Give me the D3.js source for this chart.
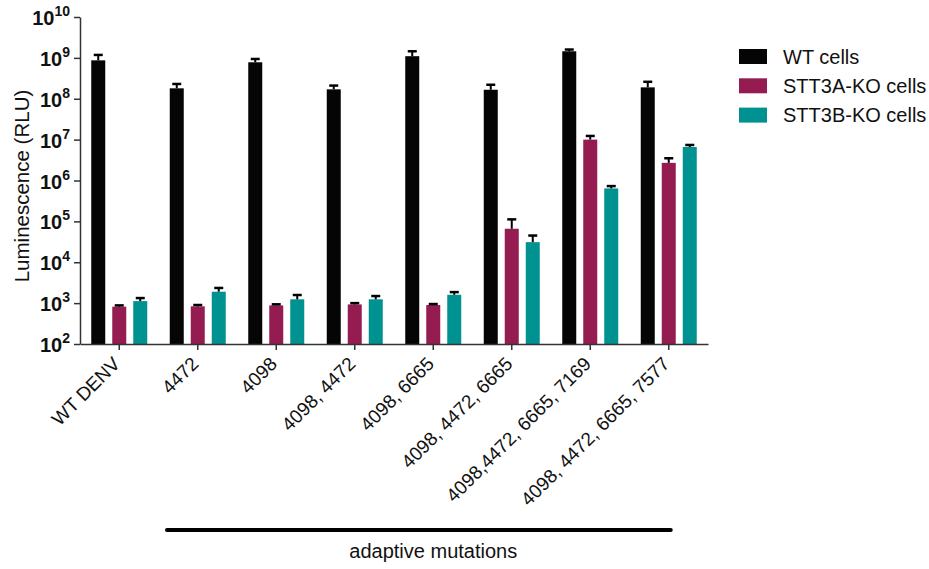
<!DOCTYPE html>
<html>
<head>
<meta charset="utf-8">
<script src="https://cdn.jsdelivr.net/npm/d3@7"></script>
<style>
  body { margin: 0; background: #fff; }
  text { font-family: "Liberation Sans", Arial, sans-serif; }
</style>
</head>
<body>
<svg id="chart" width="929" height="569"></svg>
<script>
// data (means and upper error bars, RLU)
var categories = ['WT DENV', '4472', '4098', '4098, 4472', '4098, 6665',
  '4098, 4472, 6665', '4098,4472, 6665, 7169', '4098, 4472, 6665, 7577']
var seriesNames = ['WT cells', 'STT3A-KO cells', 'STT3B-KO cells']
var seriesColors = ['#050505', '#951c50', '#009290']
var wtMeans = [8.7e8, 1.8e8, 7.8e8, 1.7e8, 1.1e9, 1.66e8, 1.45e9, 1.9e8]
var wtUpper = [1.18e9, 2.3e8, 9.4e8, 2.1e8, 1.45e9, 2.2e8, 1.6e9, 2.6e8]
var aMeans = [820, 835, 880, 930, 900, 6.6e4, 1.0e7, 2.7e6]
var aUpper = [880, 900, 935, 1000, 950, 1.12e5, 1.23e7, 3.5e6]
var bMeans = [1120, 1900, 1240, 1240, 1600, 3.1e4, 6.4e5, 6.6e6]
var bUpper = [1330, 2350, 1580, 1490, 1860, 4.5e4, 7.3e5, 7.4e6]
var yTicks = [1e2, 1e3, 1e4, 1e5, 1e6, 1e7, 1e8, 1e9, 1e10]

var means = [wtMeans, aMeans, bMeans]
var uppers = [wtUpper, aUpper, bUpper]

function draw () {
  var svg = d3.select('#chart')
    , left = 80
    , right = 708
    , plotTop = 17
    , bottom = 344
    , barW = 14
    , pitch = 21

  var x = d3.scaleBand().domain(categories).range([left, right])
  var y = d3.scaleLog().domain([1e2, 1e10]).range([bottom, plotTop])

  //bars + upper error bars
  categories.forEach(function (c, i) {
    var cx = x(c) + x.bandwidth() / 2
    seriesNames.forEach(function (s, j) {
      var bx = cx + (j - 1) * pitch
      svg.append('rect')
        .attr('x', bx - barW / 2)
        .attr('y', y(means[j][i]))
        .attr('width', barW)
        .attr('height', bottom - y(means[j][i]))
        .attr('fill', seriesColors[j])
      svg.append('line')
        .attr('x1', bx).attr('x2', bx)
        .attr('y1', y(means[j][i])).attr('y2', y(uppers[j][i]))
        .attr('stroke', '#000').attr('stroke-width', 2)
      svg.append('line')
        .attr('x1', bx - 4.5).attr('x2', bx + 4.5)
        .attr('y1', y(uppers[j][i])).attr('y2', y(uppers[j][i]))
        .attr('stroke', '#000').attr('stroke-width', 2.5)
    })
  })

  //y axis
  var yAxis = svg.append('g')
    .attr('transform', 'translate(' + left + ',0)')
    .call(d3.axisLeft(y).tickValues(yTicks).tickSize(6).tickSizeOuter(0).tickFormat(''))
  yAxis.select('.domain').attr('stroke', '#333').attr('stroke-width', 1.5)
  yAxis.selectAll('.tick line').attr('stroke', '#333').attr('stroke-width', 1.5)

  yTicks.forEach(function (t) {
    var e = Math.round(Math.log10(t))
    var lab = svg.append('text')
      .attr('x', left - 10)
      .attr('y', y(t) + 8)
      .attr('text-anchor', 'end')
      .attr('font-size', 20)
      .attr('font-weight', 'bold')
      .attr('fill', '#111')
    lab.append('tspan').text('10')
    lab.append('tspan').text(e).attr('font-size', 14).attr('dy', -9)
  })

  svg.append('text')
    .attr('transform', 'translate(29,186) rotate(-90)')
    .attr('text-anchor', 'middle')
    .attr('font-size', 20.5)
    .attr('fill', '#111')
    .text('Luminescence (RLU)')

  //x axis
  var xAxis = svg.append('g')
    .attr('transform', 'translate(0,' + bottom + ')')
    .call(d3.axisBottom(x).tickSize(6).tickSizeOuter(0).tickFormat(''))
  xAxis.select('.domain').attr('stroke', '#333').attr('stroke-width', 1.5)
  xAxis.selectAll('.tick line').attr('stroke', '#333').attr('stroke-width', 1.5)

  categories.forEach(function (c) {
    var cx = x(c) + x.bandwidth() / 2
    svg.append('text')
      .attr('transform', 'translate(' + (cx + 2) + ',' + (bottom + 21) + ') rotate(-45)')
      .attr('text-anchor', 'end')
      .attr('font-size', 19)
      .attr('fill', '#111')
      .text(c)
  })

  //bracket under the adaptive mutation groups
  var lx1 = x(categories[1]) + 8.5
    , lx2 = x(categories[categories.length - 1]) + x.bandwidth() / 2 + 2
  svg.append('line')
    .attr('x1', lx1).attr('x2', lx2)
    .attr('y1', 530).attr('y2', 530)
    .attr('stroke', '#000').attr('stroke-width', 4)
    .attr('stroke-linecap', 'round')
  svg.append('text')
    .attr('x', (x(categories[1]) + right) / 2)
    .attr('y', 558)
    .attr('text-anchor', 'middle')
    .attr('font-size', 20)
    .attr('fill', '#111')
    .text('adaptive mutations')

  //legend
  var legend = svg.append('g').attr('transform', 'translate(739,49)')
  seriesNames.forEach(function (s, j) {
    var g = legend.append('g').attr('transform', 'translate(0,' + (j * 29.3) + ')')
    g.append('rect')
      .attr('width', 28).attr('height', 15)
      .attr('fill', seriesColors[j])
    g.append('text')
      .attr('x', 44).attr('y', 14.5)
      .attr('font-size', 20)
      .attr('fill', '#111')
      .text(s)
  })
}

draw()
</script>
</body>
</html>
